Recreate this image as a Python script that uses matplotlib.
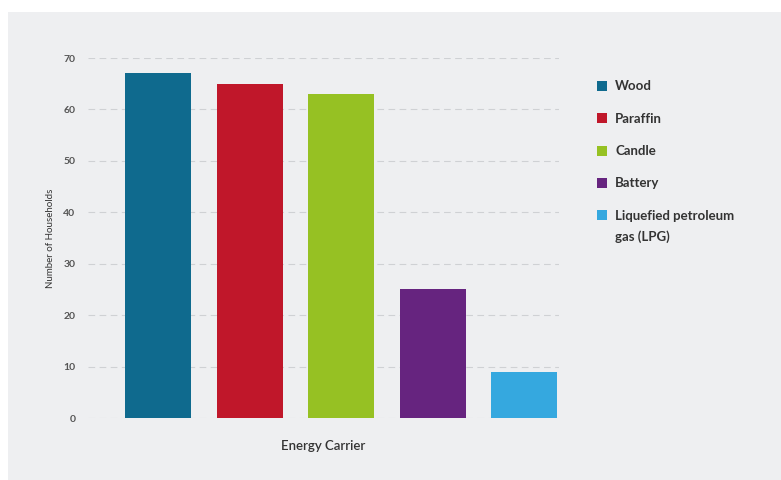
import matplotlib.pyplot as plt
from matplotlib.patches import Rectangle

carriers = ["Wood", "Paraffin", "Candle", "Battery", "Liquefied petroleum\ngas (LPG)"]
households = [67, 65, 63, 25, 9]
colors = ["#0f6a8e", "#c0172a", "#96c123", "#66247f", "#35a8df"]
yticks = [0, 10, 20, 30, 40, 50, 60, 70]

plt.rcParams["font.family"] = ["Lato", "DejaVu Sans"]
bg = "#eeeff1"
txt = "#333333"
W, H = 781, 480

fig = plt.figure(figsize=(W / 100, H / 100), dpi=100)
fig.patch.set_facecolor("white")
fig.patches.append(Rectangle((8 / W, 0), 1, 1 - 12 / H, transform=fig.transFigure,
                             facecolor=bg, edgecolor="none", zorder=-10))

ax = fig.add_axes([88 / W, 1 - 418 / H, 471 / W, 360 / H])
ax.patch.set_alpha(0)

x = range(len(carriers))
ax.bar(x, households, width=0.72, color=colors, zorder=3)

ax.set_ylim(0, 70)
ax.set_xlim(-0.77, 4.38)
ax.set_yticks(yticks)
ax.set_yticklabels([str(t) for t in yticks], fontsize=7.5, fontweight="bold", color="#555555")
ax.tick_params(axis="y", length=0, pad=9)
ax.set_xticks([])
ax.grid(axis="y", color="#cfd1d4", linestyle=(0, (6, 4)), linewidth=0.8, zorder=0)
for s in ax.spines.values():
    s.set_visible(False)

ax.set_ylabel("Number of Households", fontsize=7, color=txt, labelpad=6)
ax.set_xlabel("Energy Carrier", fontsize=9.5, color=txt, fontweight="semibold", labelpad=16)

# legend drawn by hand so the swatch sits on the first line of wrapped labels
row_y = 86
for label, color in zip(carriers, colors):
    fig.patches.append(Rectangle((597 / W, 1 - (row_y + 5) / H), 10 / W, 10 / H,
                                 transform=fig.transFigure, facecolor=color, edgecolor="none"))
    fig.text(615 / W, 1 - (row_y - 5.5) / H, label, fontsize=9.5, fontweight="bold",
             color=txt, va="top", ha="left", linespacing=1.85)
    row_y += 32.3

fig.savefig("out.png", dpi=100, facecolor=fig.get_facecolor())
